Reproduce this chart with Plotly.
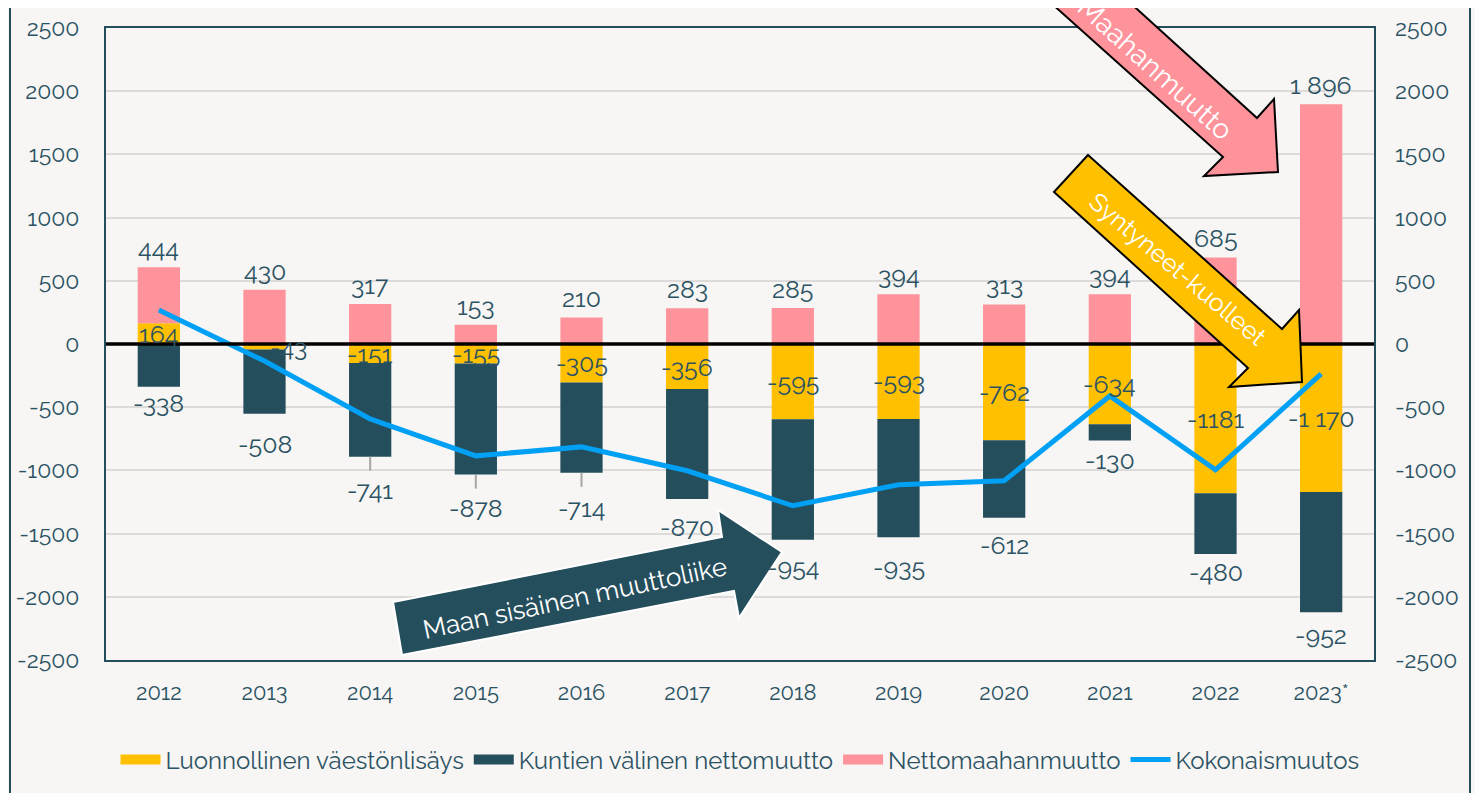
import plotly.graph_objects as go

# ---------------- data ----------------
years = ["2012", "2013", "2014", "2015", "2016", "2017", "2018", "2019", "2020", "2021", "2022", "2023"]
year_labels = ["2012", "2013", "2014", "2015", "2016", "2017", "2018", "2019", "2020", "2021", "2022", "2023*"]

natural = [164, -43, -151, -155, -305, -356, -595, -593, -762, -634, -1181, -1170]
internal = [-338, -508, -741, -878, -714, -870, -954, -935, -612, -130, -480, -952]
immigration = [444, 430, 317, 153, 210, 283, 285, 394, 313, 394, 685, 1896]
total = [269, -135, -593, -885, -814, -1003, -1280, -1114, -1082, -411, -995, -237]

natural_labels = ["164", "-43", "-151", "-155", "-305", "-356", "-595", "-593", "-762", "-634", "-1181", "-1 170"]
internal_labels = ["-338", "-508", "-741", "-878", "-714", "-870", "-954", "-935", "-612", "-130", "-480", "-952"]
immigration_labels = ["444", "430", "317", "153", "210", "283", "285", "394", "313", "394", "685", "1 896"]

y_ticks = [-2500, -2000, -1500, -1000, -500, 0, 500, 1000, 1500, 2000, 2500]
y_tick_text = ["-2500", "-2000", "-1500", "-1000", "-500", "0", "500", "1000", "1500", "2000", "2500"]

series_names = ["Luonnollinen väestönlisäys", "Kuntien välinen nettomuutto", "Nettomaahanmuutto", "Kokonaismuutos"]

# ---------------- style ----------------
natural_label_xshift = [0, 24, 0, 0, 0, 0, 0, 0, 0, 0, 0, 0]
internal_label_yshift = [1, -13, -16, -16, -18, -11, -10, -13, -10, -2, -1, -6]
leader_line_idx = [2, 3, 4]

C_YELLOW = "#ffc000"
C_DARK = "#254e5d"
C_PINK = "#ff939b"
C_BLUE = "#00a0f4"
C_TEXT = "#2c5364"
C_BG = "#f7f6f4"
FONT = "Raleway, Lato, sans-serif"

W, H = 1483, 793
OFF = 8                      # page body margin
PL, PR, PT, PB = 106, 1374, 28, 660   # plot area in page pixels


def px(x):
    return (x - PL) / (PR - PL)


def py(y):
    return (PB - y) / (PB - PT)


def path(points):
    return "M " + " L ".join(f"{px(x):.5f},{py(y):.5f}" for x, y in points) + " Z"


fig = go.Figure()
fig.add_trace(go.Bar(x=years, y=natural, name=series_names[0], showlegend=False,
                     marker=dict(color=C_YELLOW, line=dict(width=0))))
fig.add_trace(go.Bar(x=years, y=internal, name=series_names[1], showlegend=False,
                     marker=dict(color=C_DARK, line=dict(width=0))))
fig.add_trace(go.Bar(x=years, y=immigration, name=series_names[2], showlegend=False,
                     marker=dict(color=C_PINK, line=dict(width=0))))
fig.add_trace(go.Scatter(x=years, y=total, name=series_names[3], mode="lines", showlegend=False,
                         line=dict(color=C_BLUE, width=5), yaxis="y2"))

# legend entries (wide rectangle keys as in the original)
for name, col, w in [(series_names[0], C_YELLOW, 15), (series_names[1], C_DARK, 15),
                     (series_names[2], C_PINK, 15), (series_names[3], C_BLUE, 5)]:
    fig.add_trace(go.Scatter(x=[None], y=[None], name=name, mode="lines",
                             line=dict(color=col, width=w), showlegend=True))

annotations = []
shapes = []
label_font = dict(family=FONT, size=25, color=C_TEXT)
for i, yr in enumerate(years):
    base_pos = max(natural[i], 0)
    base_neg = min(natural[i], 0)
    annotations.append(dict(x=i, y=base_pos + immigration[i], text=immigration_labels[i], showarrow=False,
                            xanchor="center", yanchor="bottom", yshift=2, font=label_font))
    annotations.append(dict(x=i, y=natural[i] / 2, text=natural_labels[i], showarrow=False,
                            xanchor="center", yanchor="middle", xshift=natural_label_xshift[i], font=label_font))
    annotations.append(dict(x=i, y=base_neg + internal[i], text=internal_labels[i], showarrow=False,
                            xanchor="center", yanchor="top", yshift=internal_label_yshift[i], font=label_font))
    if i in leader_line_idx:
        shapes.append(dict(type="line", xref="x", yref="y", ysizemode="pixel", yanchor=base_neg + internal[i],
                           x0=i, x1=i, y0=0, y1=-14, line=dict(color="#a6a6a6", width=2), layer="above"))

annotations += [
    dict(xref="paper", yref="paper", x=px(1155), y=py(68), text="Maahanmuutto", showarrow=False,
         xanchor="center", yanchor="middle", textangle=42, font=dict(family=FONT, size=28, color="white")),
    dict(xref="paper", yref="paper", x=px(1178), y=py(269), text="Syntyneet-kuolleet", showarrow=False,
         xanchor="center", yanchor="middle", textangle=40, font=dict(family=FONT, size=25, color="white")),
    dict(xref="paper", yref="paper", x=px(575), y=py(598), text="Maan sisäinen muuttoliike", showarrow=False,
         xanchor="center", yanchor="middle", textangle=-12, font=dict(family=FONT, size=26, color="white")),
]

shapes += [
    # outer frame
    dict(type="rect", xref="paper", yref="paper", x0=px(10), x1=px(1470), y0=py(810), y1=py(-20),
         line=dict(color=C_DARK, width=2), fillcolor="rgba(0,0,0,0)", layer="below"),
    # zero line
    dict(type="line", xref="paper", yref="y", x0=0, x1=1, y0=0, y1=0,
         line=dict(color="black", width=3.5), layer="above"),
    # pink arrow
    dict(type="path", xref="paper", yref="paper",
         path=path([(1003, -40), (1083, -40), (1257, 118), (1274, 99), (1278, 172), (1204, 176), (1223, 157)]),
         fillcolor=C_PINK, line=dict(color="black", width=2), layer="above"),
    # yellow arrow
    dict(type="path", xref="paper", yref="paper",
         path=path([(1088, 155), (1282, 329), (1299, 310), (1302, 382), (1229, 387), (1248, 368), (1054, 192)]),
         fillcolor=C_YELLOW, line=dict(color="black", width=2), layer="above"),
    # dark arrow
    dict(type="path", xref="paper", yref="paper",
         path=path([(393, 602), (722, 537), (718, 510), (782, 552), (739, 618), (734, 591), (402, 655)]),
         fillcolor=C_DARK, line=dict(color="white", width=2), layer="above"),
]

axis_font = dict(family=FONT, size=23, color=C_TEXT)
fig.update_layout(
    width=W, height=H,
    margin=dict(l=PL - OFF, r=W - (PR - OFF), t=PT - OFF, b=H - (PB - OFF)),
    paper_bgcolor=C_BG, plot_bgcolor=C_BG,
    barmode="relative", bargap=0.6,
    font=dict(family=FONT, color=C_TEXT),
    xaxis=dict(type="category", range=[-0.5, 11.5], tickmode="array", tickvals=years, ticktext=year_labels,
               tickfont=dict(family=FONT, size=22, color=C_TEXT), showgrid=False, automargin=False,
               showline=True, mirror=True, linecolor=C_DARK, linewidth=2, ticks="", ticklabelstandoff=12),
    yaxis=dict(range=[-2500, 2500], tickmode="array", tickvals=y_ticks, ticktext=y_tick_text,
               tickfont=axis_font, showgrid=True, gridcolor="#dcdbd9", gridwidth=1.5, zeroline=False,
               automargin=False,
               showline=True, mirror=True, linecolor=C_DARK, linewidth=2, ticks="", ticklabelstandoff=20),
    yaxis2=dict(range=[-2500, 2500], overlaying="y", side="right", tickmode="array", tickvals=y_ticks,
                ticktext=y_tick_text, tickfont=axis_font, showgrid=False, zeroline=False, automargin=False,
                showline=False, ticks="", ticklabelstandoff=20),
    legend=dict(orientation="h", x=0.5, xanchor="center", y=py(760), yanchor="middle",
                font=dict(family=FONT, size=24, color=C_TEXT), bgcolor="rgba(0,0,0,0)",
                traceorder="normal", itemwidth=40),
    annotations=annotations,
    shapes=shapes,
)

fig.write_html("out.html")
